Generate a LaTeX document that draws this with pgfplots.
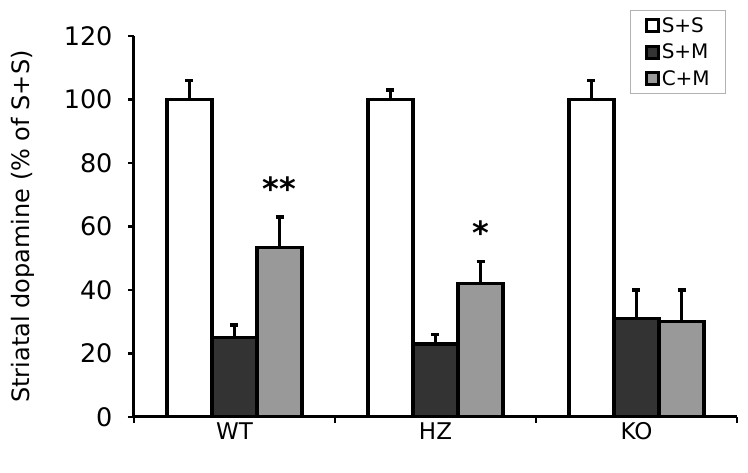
\documentclass[border=0pt]{standalone}
\usepackage{pgfplots}
\pgfplotsset{compat=1.18}
\usepackage{fontspec}
\setmainfont{DejaVu Sans}
\definecolor{darkbar}{HTML}{333333}
\definecolor{lightbar}{HTML}{999999}
\begin{document}
\begin{tikzpicture}[x=1pt,y=1pt]
\useasboundingbox (-134,-56) rectangle (614,417);
\begin{axis}[
  scale only axis,
  width=603pt, height=381pt,
  ymin=0, ymax=120,
  xmin=-0.5, xmax=2.5,
  ytick={0,20,...,120},
  xtick={-0.5,0.5,1.5,2.5},
  xticklabels={},
  extra x ticks={0,1,2},
  extra x tick labels={WT,HZ,KO},
  extra x tick style={major tick length=0pt, xticklabel style={yshift=-2pt}},
  axis x line*=bottom,
  axis y line*=left,
  axis line style={line width=3pt, -},
  tick style={line width=2.8pt, black},
  tick align=outside,
  major tick length=6pt,
  /pgf/number format/assume math mode=true,
  yticklabel style={font=\fontsize{25.5}{28}\selectfont, xshift=-12pt},
  xticklabel style={font=\fontsize{23}{26}\selectfont},
  ylabel={Striatal dopamine (\% of S+S)},
  ylabel style={font=\fontsize{24}{26}\selectfont, at={(axis description cs:-0.21,0.5)}, anchor=north},
  ybar=0pt,
  bar width=0.224,
  legend style={at={(axis description cs:0.982,1.068)}, anchor=north east,
    draw=gray!60, line width=0.8pt, font=\fontsize{20}{22}\selectfont,
    row sep=6pt, inner xsep=14pt, inner ysep=5pt, cells={anchor=west}},
  legend image code/.code={\draw[line width=3pt, #1] (0pt,-6pt) rectangle (12pt,6pt);},
  legend cell align=left,
]
\addplot+[draw=black, line width=3.2pt, fill=white,
  error bars/.cd, y dir=plus, y explicit,
  error bar style={line width=3.2pt, black}, error mark options={line width=3.2pt, mark size=4pt, rotate=90}]
  coordinates {(0,100) +- (0,6) (1,100) +- (0,3) (2,100) +- (0,6)};
\addplot+[draw=black, line width=3.2pt, fill=darkbar,
  error bars/.cd, y dir=plus, y explicit,
  error bar style={line width=3.2pt, black}, error mark options={line width=3.2pt, mark size=4pt, rotate=90}]
  coordinates {(0,25) +- (0,4) (1,23) +- (0,3) (2,31) +- (0,9)};
\addplot+[draw=black, line width=3.2pt, fill=lightbar,
  error bars/.cd, y dir=plus, y explicit,
  error bar style={line width=3.2pt, black}, error mark options={line width=3.2pt, mark size=4pt, rotate=90}]
  coordinates {(0,53.5) +- (0,9.5) (1,42) +- (0,7) (2,30) +- (0,10)};
\legend{S+S,S+M,C+M}
\node[font=\fontsize{32}{32}\bfseries] at (axis cs:0.224,72) {**};
\node[font=\fontsize{32}{32}\bfseries] at (axis cs:1.224,58) {*};
\end{axis}
\end{tikzpicture}
\end{document}
